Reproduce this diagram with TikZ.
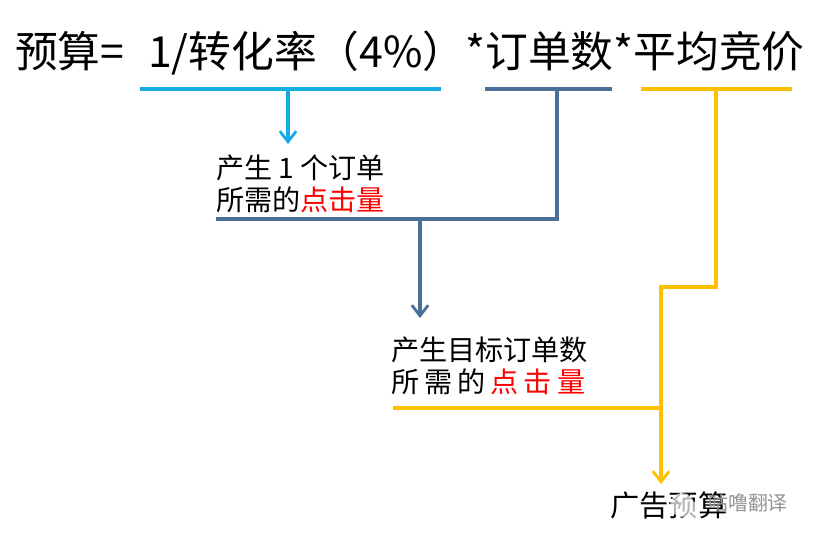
\documentclass[tikz,border=0pt]{standalone}
\usepackage{fontspec}
\setmainfont{Noto Sans CJK SC}
\usepackage{tikz}
\usetikzlibrary{arrows.meta}
\definecolor{lineblue}{HTML}{14ABE6}
\definecolor{linesteel}{HTML}{4A7099}
\definecolor{lineyellow}{HTML}{FFC000}
\tikzset{
  thickrule/.style={line width=2.7pt},
  pointer/.style={thickrule,-{Straight Barb[length=9pt,width=14pt,line width=2.4pt]}},
  bigtext/.style={anchor=west,inner sep=0pt,font=\fontsize{36.5}{36.5}\selectfont},
  midtext/.style={anchor=west,inner sep=0pt,align=left,font=\fontsize{24}{27.5}\selectfont},
}
\begin{document}
\begin{tikzpicture}[x=0.03cm,y=-0.03cm]
            \useasboundingbox (0,0) rectangle (814,539);
            \coordinate (B1) at (140,89);
            \coordinate (B2) at (441,89);
            \coordinate (S1) at (485,89);
            \coordinate (S2) at (612,89);
            \coordinate (Y1) at (641,89);
            \coordinate (Y2) at (792,89);
            \coordinate (BT) at (288,89);
            \coordinate (BH) at (288,144);
            \coordinate (ST) at (557,89);
            \coordinate (SC) at (557,219);
            \coordinate (SL) at (216,219);
            \coordinate (SM) at (420,219);
            \coordinate (SH) at (420,318);
            \coordinate (YT) at (716,89);
            \coordinate (YA) at (716,287);
            \coordinate (YB) at (661,287);
            \coordinate (YL) at (393,408);
            \coordinate (YM) at (661,408);
            \coordinate (YH) at (661,484);
            \node[bigtext] (title) at (15,53) {预算=\hspace{0.55em}1/转化率（4\%）*订单数*平均竞价};
            \node[midtext] (clicks) at (216,184) {产生\hspace{0.22em}1\hspace{0.22em}个订单\\所需的\textcolor{red}{点击量}};
            \node[midtext] (total) at (391,366) {产生目标订单数\\所\hspace{0.18em}需\hspace{0.18em}的\hspace{0.18em}\textcolor{red}{点\hspace{0.18em}击\hspace{0.18em}量}};
            \node[midtext,font=\fontsize{25}{25}\selectfont] (budget) at (610,505) {广告预算};
            \node[anchor=west,inner sep=0pt,text=gray!85,font=\fontsize{17}{17}\selectfont] (mark) at (708,503) {咕噜翻译};
            \fill[white,opacity=0.7] (682,505) circle (12) (691,510) circle (9);
            \draw[thickrule,lineblue] (B1) -- (B2);
            \draw[pointer,lineblue] (BT) -- (BH);
            \draw[thickrule,linesteel] (S1) -- (S2);
            \draw[thickrule,linesteel] (ST) -- (SC) -- (SL);
            \draw[pointer,linesteel] (SM) -- (SH);
            \draw[thickrule,lineyellow] (Y1) -- (Y2);
            \draw[thickrule,lineyellow] (YT) -- (YA) -- (YB) -- (YM);
            \draw[thickrule,lineyellow] (YL) -- (YM);
            \draw[pointer,lineyellow] (YM) -- (YH);
\end{tikzpicture}
\end{document}
